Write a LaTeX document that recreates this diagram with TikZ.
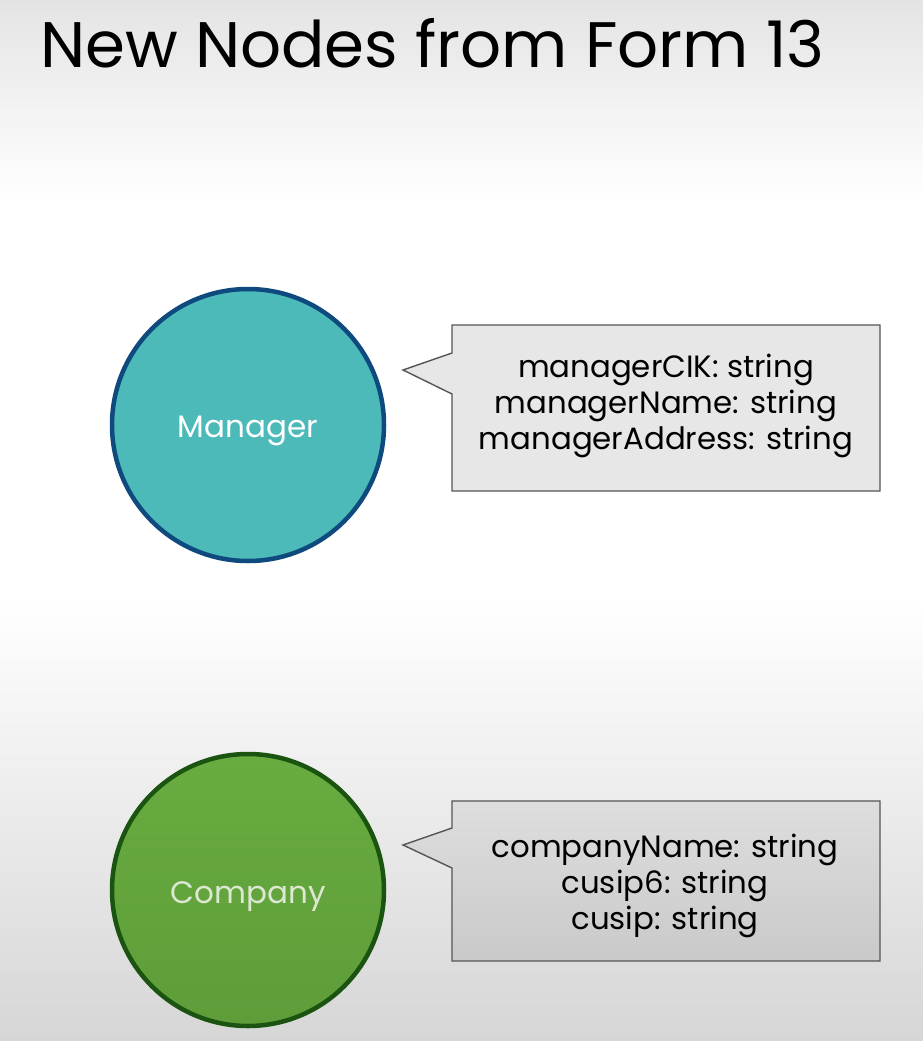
\documentclass[tikz,border=0pt]{standalone}
\usepackage{fontspec}
\setmainfont{Poppins}
\definecolor{bgtop}{HTML}{E4E4E4}
\definecolor{bgbot}{HTML}{D6D6D6}
\definecolor{mgrfill}{HTML}{4CBAB8}
\definecolor{mgrline}{HTML}{0E4A7E}
\definecolor{cmpfill}{HTML}{68AC40}
\definecolor{cmpfillb}{HTML}{5E9D39}
\definecolor{cmpline}{HTML}{1B5410}
\definecolor{cmptext}{HTML}{DCE8D2}
\definecolor{boxline}{HTML}{555555}
\begin{document}
\begin{tikzpicture}[x=1pt,y=-1pt,
  entity/.style={circle,line width=4.5pt,minimum size=272pt,inner sep=0pt},
  entlabel/.style={anchor=base,inner sep=0pt,font=\fontsize{31}{36}\selectfont},
  callbox/.style={draw=boxline,line width=1.4pt,line join=miter},
  attr/.style={align=center,font=\fontsize{30.8}{36}\selectfont,inner sep=0pt,text=black}]
\useasboundingbox (0,0) rectangle (923,1041);
% background
\shade[top color=bgtop,bottom color=white] (0,0) rectangle (923,200);
\fill[white] (0,199) rectangle (923,601);
\shade[top color=white,bottom color=bgbot] (0,600) rectangle (923,1041);
% title
\node[anchor=base west,inner sep=0pt,font=\fontsize{64.3}{70}\selectfont] (title) at (40,67) {New Nodes from Form 13};
% manager
\node[entity,fill=mgrfill,draw=mgrline] (mgr) at (248,425) {};
\node[entlabel,text=white] (mgrlabel) at (248,437) {Manager};
\path[callbox,fill=bgtop!90!white] (452,325) -- (880,325) -- (880,491) -- (452,491) -- (452,394) -- (403,370) -- (452,353) -- cycle;
\node[attr] (mgrattr) at (666,406) {managerCIK: string\\managerName: string\\managerAddress: string};
% company
\node[entity,top color=cmpfill,bottom color=cmpfillb,draw=cmpline] (cmp) at (248,890) {};
\node[entlabel,text=cmptext] (cmplabel) at (248,903) {Company};
\path[callbox,top color=black!13,bottom color=black!21] (452,801) -- (880,801) -- (880,961) -- (452,961) -- (452,868) -- (403,845) -- (452,828) -- cycle;
\node[attr] (cmpattr) at (665,886) {companyName: string\\cusip6: string\\cusip: string};
\end{tikzpicture}
\end{document}
